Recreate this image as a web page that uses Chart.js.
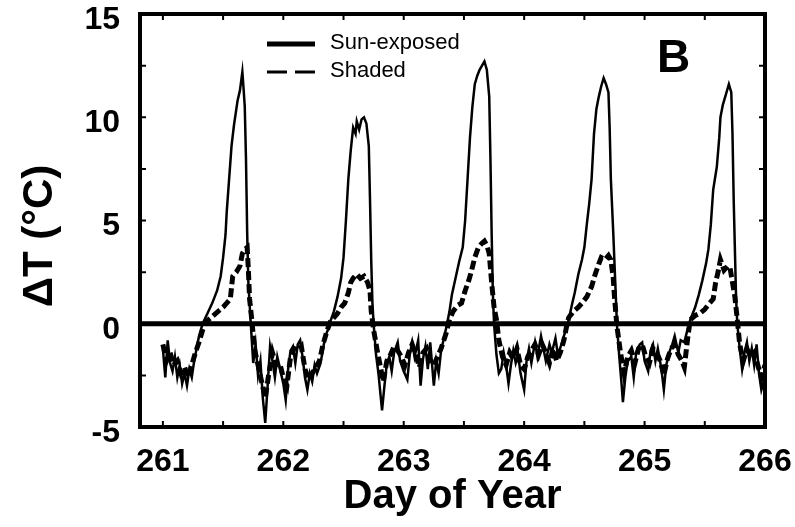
<!DOCTYPE html>
<html>
<head>
<meta charset="utf-8">
<script src="https://cdn.jsdelivr.net/npm/chart.js@4"></script>
<style>
  html, body { margin: 0; padding: 0; background: #fff; }
</style>
</head>
<body>
<canvas id="chart" width="795" height="527"></canvas>
<script>
/* ===== data ===== */
const xTicks = [261, 262, 263, 264, 265, 266];
const yTicks = [-5, 0, 5, 10, 15];

// Sun-exposed logger: day of year / ΔT (°C)
const sunDay = [
  261.00, 261.02, 261.04, 261.06, 261.08, 261.10, 261.12, 261.14, 261.16, 261.18,
  261.20, 261.22, 261.24, 261.26, 261.28, 261.30, 261.33, 261.37, 261.41, 261.45,
  261.48, 261.50, 261.52, 261.53, 261.55, 261.57, 261.59, 261.62, 261.64, 261.66,
  261.67, 261.68, 261.69, 261.70, 261.71, 261.73, 261.75, 261.77, 261.79, 261.81,
  261.83, 261.85, 261.87, 261.89, 261.91, 261.93, 261.95, 261.97, 262.00, 262.02,
  262.04, 262.06, 262.08, 262.10, 262.12, 262.14, 262.16, 262.18, 262.20, 262.22,
  262.24, 262.26, 262.28, 262.31, 262.33, 262.35, 262.37, 262.39, 262.42, 262.45,
  262.48, 262.50, 262.52, 262.54, 262.56, 262.58, 262.60, 262.61, 262.63, 262.65,
  262.67, 262.69, 262.71, 262.72, 262.73, 262.74, 262.75, 262.77, 262.79, 262.81,
  262.82, 262.84, 262.86, 262.88, 262.90, 262.92, 262.95, 262.97, 263.00, 263.03,
  263.05, 263.07, 263.09, 263.12, 263.14, 263.16, 263.18, 263.20, 263.22, 263.25,
  263.27, 263.29, 263.31, 263.33, 263.36, 263.38, 263.40, 263.43, 263.46, 263.49,
  263.51, 263.53, 263.55, 263.57, 263.59, 263.61, 263.63, 263.65, 263.67, 263.69,
  263.71, 263.72, 263.73, 263.74, 263.75, 263.77, 263.79, 263.81, 263.83, 263.85,
  263.87, 263.89, 263.91, 263.93, 263.95, 263.97, 264.00, 264.02, 264.04, 264.06,
  264.09, 264.11, 264.14, 264.16, 264.18, 264.21, 264.23, 264.26, 264.28, 264.31,
  264.33, 264.35, 264.37, 264.40, 264.42, 264.45, 264.48, 264.50, 264.52, 264.54,
  264.56, 264.58, 264.60, 264.62, 264.64, 264.66, 264.68, 264.70, 264.71, 264.72,
  264.74, 264.76, 264.77, 264.79, 264.81, 264.82, 264.84, 264.86, 264.89, 264.91,
  264.93, 264.96, 264.98, 265.00, 265.03, 265.05, 265.07, 265.09, 265.11, 265.14,
  265.16, 265.18, 265.21, 265.23, 265.25, 265.28, 265.30, 265.33, 265.36, 265.38,
  265.40, 265.42, 265.45, 265.48, 265.51, 265.53, 265.55, 265.57, 265.60, 265.62,
  265.63, 265.65, 265.67, 265.70, 265.72, 265.73, 265.74, 265.75, 265.76, 265.77,
  265.79, 265.81, 265.83, 265.85, 265.87, 265.89, 265.91, 265.93, 265.95, 265.97,
  265.99, 266.00
];
const sunDT = [
  -1.2, -2.6, -0.8, -1.9, -2.3, -1.6, -2.6, -2.0, -2.9, -2.4,
  -3.0, -2.2, -2.6, -1.8, -1.2, -0.6, 0.0, 0.5, 1.0, 1.6,
  2.3, 3.2, 4.3, 5.4, 7.0, 8.6, 9.6, 10.8, 11.3, 12.2,
  11.4, 10.5, 8.0, 4.4, 2.0, 0.0, -1.9, -1.0, -2.5, -1.8,
  -3.6, -4.8, -3.0, -1.1, -1.8, -2.6, -1.6, -2.1, -2.9, -3.7,
  -2.2, -1.3, -1.1, -1.9, -1.0, -0.8, -1.6, -2.6, -3.2, -2.4,
  -2.8, -2.0, -2.4, -1.9, -1.2, -0.6, -0.3, 0.1, 0.6, 1.3,
  2.2, 3.2, 5.0, 7.0, 8.4, 9.5, 9.2, 9.8, 9.4, 9.9,
  10.0, 9.7, 8.6, 6.0, 3.1, 1.0, 0.0, -1.5, -2.4, -3.6,
  -4.2, -3.0, -1.9, -1.6, -2.3, -1.4, -0.9, -1.8, -2.3, -2.7,
  -1.5, -0.9, -1.6, -0.8, -3.0, -1.7, -1.1, -2.2, -0.9, -3.0,
  -1.8, -2.4, -1.3, -0.8, 0.0, 0.6, 1.4, 2.2, 3.0, 3.7,
  5.0, 7.0, 9.0, 10.5, 11.6, 12.0, 12.3, 12.5, 12.7, 12.3,
  11.0, 8.0, 4.4, 1.5, 0.0, -1.5, -2.4, -2.2, -1.4, -2.0,
  -2.9, -2.0, -1.3, -1.9, -1.5, -2.4, -3.2, -1.8, -1.2, -1.9,
  -0.9, -1.6, -0.6, -1.2, -1.8, -1.0, -1.4, -0.7, -1.5, -1.0,
  -0.6, -0.2, 0.2, 1.0, 1.5, 2.4, 3.1, 3.7, 4.8, 5.8,
  7.0, 9.2, 10.4, 11.0, 11.5, 11.9, 11.6, 11.2, 9.5, 7.0,
  4.4, 1.5, 0.0, -1.6, -3.0, -3.8, -2.6, -1.8, -1.6, -2.6,
  -1.4, -1.0, -0.9, -1.8, -2.3, -1.3, -1.0, -1.8, -1.2, -2.2,
  -3.2, -2.0, -1.3, -1.0, -0.6, -1.4, -0.8, -0.9, -0.2, 0.2,
  0.5, 0.8, 1.4, 2.1, 2.9, 3.6, 4.8, 6.5, 7.6, 9.0,
  10.0, 10.6, 11.0, 11.6, 11.2, 9.2, 6.0, 3.6, 1.2, 0.0,
  -1.2, -2.2, -1.4, -0.9, -1.8, -1.2, -2.0, -1.0, -2.4, -3.2,
  -2.8, -2.2
];

// Shaded logger
const shadeDay = [
  261.00, 261.03, 261.06, 261.09, 261.12, 261.15, 261.18, 261.21, 261.24, 261.27,
  261.30, 261.33, 261.36, 261.40, 261.44, 261.48, 261.50, 261.53, 261.56, 261.58,
  261.61, 261.64, 261.66, 261.68, 261.70, 261.71, 261.72, 261.74, 261.76, 261.79,
  261.82, 261.85, 261.88, 261.91, 261.94, 261.97, 262.00, 262.03, 262.06, 262.09,
  262.12, 262.15, 262.18, 262.21, 262.24, 262.27, 262.30, 262.33, 262.36, 262.39,
  262.42, 262.45, 262.48, 262.51, 262.54, 262.56, 262.58, 262.61, 262.64, 262.67,
  262.70, 262.72, 262.73, 262.75, 262.78, 262.81, 262.83, 262.86, 262.89, 262.92,
  262.95, 262.98, 263.01, 263.04, 263.07, 263.10, 263.13, 263.16, 263.19, 263.22,
  263.25, 263.28, 263.31, 263.35, 263.38, 263.41, 263.45, 263.48, 263.51, 263.54,
  263.56, 263.59, 263.62, 263.65, 263.67, 263.69, 263.71, 263.73, 263.75, 263.77,
  263.79, 263.82, 263.85, 263.88, 263.91, 263.94, 263.97, 264.00, 264.03, 264.06,
  264.09, 264.12, 264.15, 264.18, 264.21, 264.24, 264.27, 264.30, 264.33, 264.35,
  264.37, 264.41, 264.45, 264.48, 264.52, 264.56, 264.59, 264.62, 264.64, 264.67,
  264.70, 264.72, 264.74, 264.75, 264.77, 264.80, 264.83, 264.86, 264.89, 264.92,
  264.95, 264.98, 265.01, 265.04, 265.07, 265.10, 265.13, 265.16, 265.19, 265.22,
  265.25, 265.28, 265.31, 265.33, 265.36, 265.38, 265.42, 265.46, 265.50, 265.54,
  265.57, 265.59, 265.61, 265.63, 265.66, 265.69, 265.71, 265.73, 265.75, 265.77,
  265.79, 265.82, 265.85, 265.88, 265.91, 265.94, 265.97, 266.00
];
const shadeDT = [
  -1.0, -1.8, -1.4, -2.0, -1.8, -2.4, -2.1, -2.6, -2.0, -1.4,
  -0.9, -0.3, 0.1, 0.3, 0.5, 0.7, 0.8, 1.0, 1.2, 2.3,
  2.5, 2.8, 3.4, 3.6, 3.7, 2.6, 1.2, 0.1, -1.2, -2.0,
  -2.8, -3.6, -2.4, -1.4, -2.0, -1.9, -2.6, -3.0, -1.6, -1.2,
  -1.3, -1.1, -2.2, -2.7, -2.4, -2.1, -1.8, -1.0, -0.4, 0.1,
  0.3, 0.5, 0.8, 1.0, 1.5, 2.0, 2.2, 2.4, 2.2, 2.3,
  2.0, 1.6, 0.6, -0.3, -1.3, -2.2, -2.8, -1.8, -1.5, -1.1,
  -1.3, -1.6, -2.0, -1.4, -1.0, -1.5, -2.1, -1.4, -1.2, -1.8,
  -2.0, -1.6, -1.2, -0.5, 0.2, 0.6, 0.9, 1.0, 1.6, 2.1,
  2.5, 3.2, 3.7, 3.9, 4.0, 3.8, 3.4, 2.0, 0.8, 0.2,
  -0.8, -1.6, -2.0, -1.4, -1.7, -1.2, -2.0, -2.2, -1.6, -1.3,
  -1.0, -1.5, -1.0, -1.4, -1.9, -1.2, -1.8, -1.4, -0.8, -0.2,
  0.3, 0.6, 0.8, 1.0, 1.3, 1.8, 2.4, 2.9, 3.2, 3.1,
  3.3, 3.1, 2.2, 1.3, -0.1, -1.4, -2.4, -1.6, -1.3, -1.9,
  -1.2, -1.0, -1.6, -1.9, -1.2, -1.4, -1.8, -2.5, -1.7, -1.2,
  -1.0, -1.5, -1.8, -2.1, -0.6, 0.2, 0.4, 0.5, 0.7, 1.0,
  1.2, 2.0, 2.5, 3.1, 2.6, 2.8, 2.7, 2.0, 1.3, 0.2,
  -1.0, -1.8, -1.2, -1.6, -1.4, -2.0, -2.6, -2.0
];

const xMin = 260.81, xMax = 266;
const yMin = -5, yMax = 15;

/* ===== helpers ===== */
const FONT = "'Liberation Sans', Arial, Helvetica, sans-serif";
const pts = (xs, ys) => xs.map((x, i) => ({ x, y: ys[i] }));

/* ===== frame, inward ticks, zero line, legend, labels ===== */
const decor = {
  id: 'decor',
  beforeDatasetsDraw(c) {
    const { ctx, chartArea: a, scales: { y } } = c;
    const y0 = y.getPixelForValue(0);
    ctx.save();
    ctx.strokeStyle = '#000';
    ctx.lineWidth = 5;
    ctx.beginPath();
    ctx.moveTo(a.left, y0);
    ctx.lineTo(a.right, y0);
    ctx.stroke();
    ctx.restore();
  },
  afterDatasetsDraw(c) {
    const { ctx, chartArea: a, scales: { x, y } } = c;
    ctx.save();
    ctx.strokeStyle = '#000';

    // inward tick marks every half day / every 2.5 °C
    ctx.lineWidth = 2;
    ctx.beginPath();
    for (let i = 0; i < xTicks.length; i++) {
      [xTicks[i], xTicks[i] + 0.5].forEach(v => {
        if (v > xMax) return;
        const px = x.getPixelForValue(v);
        ctx.moveTo(px, a.bottom); ctx.lineTo(px, a.bottom - 6);
        ctx.moveTo(px, a.top);    ctx.lineTo(px, a.top + 6);
      });
    }
    for (let i = 0; i < yTicks.length; i++) {
      [yTicks[i], yTicks[i] + 2.5].forEach(v => {
        if (v > yMax) return;
        const py = y.getPixelForValue(v);
        ctx.moveTo(a.left, py);  ctx.lineTo(a.left + 6, py);
        ctx.moveTo(a.right, py); ctx.lineTo(a.right - 6, py);
      });
    }
    ctx.stroke();

    // heavy frame
    ctx.lineWidth = 4;
    ctx.strokeRect(a.left, a.top, a.right - a.left, a.bottom - a.top);

    // legend
    ctx.lineWidth = 5;
    ctx.beginPath();
    ctx.moveTo(267, 44); ctx.lineTo(315, 44);
    ctx.stroke();
    ctx.lineWidth = 3;
    ctx.setLineDash([20, 8]);
    ctx.beginPath();
    ctx.moveTo(267, 72); ctx.lineTo(315, 72);
    ctx.stroke();
    ctx.setLineDash([]);

    ctx.fillStyle = '#000';
    ctx.font = '22px ' + FONT;
    ctx.textBaseline = 'middle';
    ctx.fillText('Sun-exposed', 330, 43);
    ctx.fillText('Shaded', 330, 71);

    ctx.font = 'bold 46px ' + FONT;
    ctx.textBaseline = 'alphabetic';
    ctx.fillText('B', 657, 72);

    // y-axis title
    ctx.translate(40, 236);
    ctx.rotate(-Math.PI / 2);
    ctx.font = 'bold 42px ' + FONT;
    ctx.textAlign = 'center';
    ctx.textBaseline = 'middle';
    ctx.fillText('ΔT (°C)', 0, 0);
    ctx.restore();
  }
};

/* ===== chart ===== */
new Chart(document.getElementById('chart'), {
  type: 'scatter',
  data: {
    datasets: [
      {
        label: 'Sun-exposed',
        data: pts(sunDay, sunDT),
        showLine: true,
        borderColor: '#000',
        borderWidth: 2.5,
        pointRadius: 0,
        tension: 0
      },
      {
        label: 'Shaded',
        data: pts(shadeDay, shadeDT),
        showLine: true,
        borderColor: '#000',
        borderWidth: 5,
        borderDash: [9, 4],
        pointRadius: 0,
        tension: 0
      }
    ]
  },
  options: {
    responsive: false,
    animation: false,
    devicePixelRatio: 1,
    layout: { padding: { left: 0, top: 14, right: 30, bottom: 0 } },
    plugins: { legend: { display: false }, tooltip: { enabled: false } },
    scales: {
      x: {
        type: 'linear',
        min: xMin,
        max: xMax,
        afterBuildTicks: s => { s.ticks = xTicks.map(v => ({ value: v })); },
        afterFit: s => { s.height = 100; s.paddingLeft = 0; s.paddingRight = 0; },
        grid: { display: false },
        border: { display: false },
        ticks: {
          color: '#000',
          padding: 8,
          maxRotation: 0,
          font: { family: FONT, size: 32, weight: 'bold' },
          callback: v => String(v)
        },
        title: {
          display: true,
          text: 'Day of Year',
          color: '#000',
          padding: { top: 0, bottom: 6 },
          font: { family: FONT, size: 40, weight: 'bold' }
        }
      },
      y: {
        min: yMin,
        max: yMax,
        afterBuildTicks: s => { s.ticks = yTicks.map(v => ({ value: v })); },
        afterFit: s => { s.width = 140; s.paddingTop = 0; s.paddingBottom = 0; },
        grid: { display: false },
        border: { display: false },
        ticks: {
          color: '#000',
          padding: 12,
          labelOffset: 6,
          font: { family: FONT, size: 32, weight: 'bold' },
          callback: v => String(v)
        }
      }
    }
  },
  plugins: [decor]
});
</script>
</body>
</html>
